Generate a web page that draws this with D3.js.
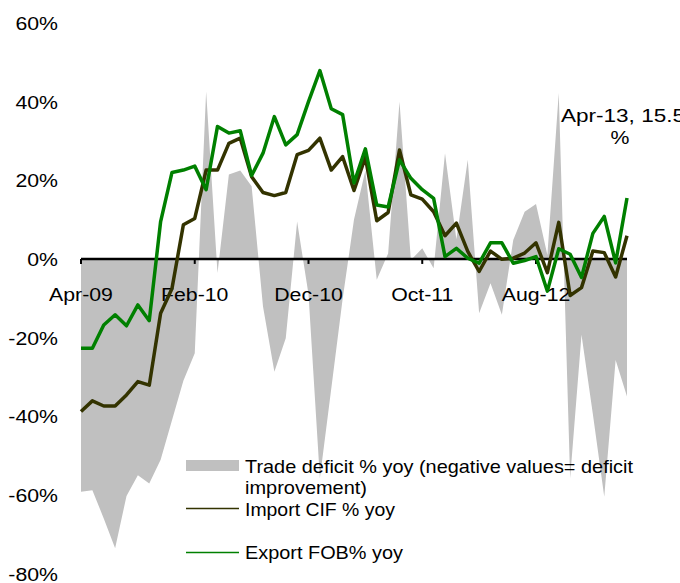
<!DOCTYPE html>
<html>
<head>
<meta charset="utf-8">
<script src="https://cdn.jsdelivr.net/npm/d3@7/dist/d3.min.js"></script>
<style>
  html, body { margin: 0; padding: 0; background: #fff; }
  svg { display: block; }
  text { font-family: "Liberation Sans", Arial, sans-serif; fill: #000; }
</style>
</head>
<body>
<svg id="chart" width="680" height="583"></svg>
<script>
const months = ["Apr-09","May-09","Jun-09","Jul-09","Aug-09","Sep-09","Oct-09","Nov-09","Dec-09","Jan-10",
  "Feb-10","Mar-10","Apr-10","May-10","Jun-10","Jul-10","Aug-10","Sep-10","Oct-10","Nov-10",
  "Dec-10","Jan-11","Feb-11","Mar-11","Apr-11","May-11","Jun-11","Jul-11","Aug-11","Sep-11",
  "Oct-11","Nov-11","Dec-11","Jan-12","Feb-12","Mar-12","Apr-12","May-12","Jun-12","Jul-12",
  "Aug-12","Sep-12","Oct-12","Nov-12","Dec-12","Jan-13","Feb-13","Mar-13","Apr-13"];

const tradeDeficit = [-59.2,-58.8,-66.0,-73.6,-60.3,-55.0,-57.1,-51.1,-41.0,-31.0,
  -24.0,42.6,-3.6,21.5,22.5,18.5,-12.1,-28.7,-20.2,9.5,
  -9.0,-55.8,-33.0,-10.2,10.0,22.5,-5.3,1.4,40.0,-0.3,
  2.7,-2.4,26.9,5.0,25.2,-13.8,-6.2,-14.2,4.8,12.0,
  14.0,1.0,42.2,-55.8,-19.3,-39.5,-60.5,-25.7,-35.0];

const importCIF = [-38.8,-36.1,-37.4,-37.4,-34.6,-31.2,-32.1,-13.8,-7.5,8.7,
  10.3,22.6,22.6,29.4,30.7,20.9,16.9,16.1,16.9,26.5,
  27.6,30.7,22.6,26.0,17.4,25.9,9.7,11.8,27.7,16.3,
  15.2,12.0,5.9,9.1,1.9,-3.2,2.0,-0.1,0.2,1.5,
  4.1,-3.5,9.3,-9.3,-7.3,2.0,1.6,-4.6,5.9];

const exportFOB = [-22.7,-22.7,-16.8,-14.2,-17.0,-11.7,-15.7,9.5,22.0,22.6,
  23.6,17.6,33.7,32.0,32.6,21.2,26.9,36.2,29.0,31.6,
  40.0,47.9,38.2,36.7,19.3,28.0,13.7,13.2,25.2,20.5,
  17.6,15.4,0.6,2.7,0.2,-1.1,4.1,4.1,-1.1,-0.4,
  0.6,-8.2,2.6,1.2,-4.7,6.5,10.8,-1.0,15.5];

const yTicks = [60,40,20,0,-20,-40,-60,-80];
const xTickLabels = ["Apr-09","Feb-10","Dec-10","Oct-11","Aug-12"];
const legendLabels = [["Trade deficit % yoy (negative values= deficit","improvement)"],["Import CIF % yoy"],["Export FOB% yoy"]];
const annotation = ["Apr-13, 15.5","%"];

const colors = { deficit: "#c0c0c0", imp: "#333300", exp: "#008000" };
const SX = 1.12;

const svg = d3.select("#chart");
const x = d3.scalePoint().domain(months).range([81, 627]);
const y = d3.scaleLinear().domain([-80, 60]).range([573.5, 23]);

function sText(g, tx, ty, str, anchor) {
  return g.append("text")
    .attr("transform", `translate(${tx},${ty}) scale(${SX},1)`)
    .attr("text-anchor", anchor || "start")
    .style("font-size", "19px")
    .text(str);
}
function wText(g, tx, ty, str, width, anchor) {
  return g.append("text")
    .attr("x", tx).attr("y", ty)
    .attr("text-anchor", anchor || "start")
    .attr("textLength", width)
    .attr("lengthAdjust", "spacingAndGlyphs")
    .style("font-size", "19px")
    .text(str);
}

// area
const area = d3.area()
  .x((d, i) => x(months[i]))
  .y0(y(0))
  .y1(d => y(d));
svg.append("path").datum(tradeDeficit)
  .attr("d", area)
  .attr("fill", colors.deficit);

// y labels
yTicks.forEach(v => {
  sText(svg, 58, y(v) + 7, v + "%", "end");
});

// x axis line + ticks
svg.append("line")
  .attr("x1", x(months[0])).attr("x2", x(months[months.length - 1]))
  .attr("y1", y(0)).attr("y2", y(0))
  .attr("stroke", "#000").attr("stroke-width", 2.5);
xTickLabels.forEach(m => {
  svg.append("line")
    .attr("x1", x(m)).attr("x2", x(m))
    .attr("y1", y(0)).attr("y2", y(0) + 5)
    .attr("stroke", "#000").attr("stroke-width", 2);
  sText(svg, x(m), y(0) + 42, m, "middle");
});

// lines
const line = d3.line().x((d, i) => x(months[i])).y(d => y(d));
svg.append("path").datum(importCIF)
  .attr("d", line).attr("fill", "none")
  .attr("stroke", colors.imp).attr("stroke-width", 3.5)
  .attr("stroke-linejoin", "round");
svg.append("path").datum(exportFOB)
  .attr("d", line).attr("fill", "none")
  .attr("stroke", colors.exp).attr("stroke-width", 3.5)
  .attr("stroke-linejoin", "round");

// annotation
const last = months[months.length - 1];
const ay = y(exportFOB[exportFOB.length - 1]);
wText(svg, 561, ay - 76, annotation[0], 124, "start");
sText(svg, 620, ay - 54, annotation[1], "middle");

// legend
const lg = svg.append("g");
lg.append("rect").attr("x", 186).attr("y", 460).attr("width", 53).attr("height", 11)
  .attr("fill", colors.deficit);
wText(lg, 245, 473, legendLabels[0][0], 388);
wText(lg, 245, 494, legendLabels[0][1], 122);
lg.append("line").attr("x1", 186).attr("x2", 239).attr("y1", 508.5).attr("y2", 508.5)
  .attr("stroke", colors.imp).attr("stroke-width", 1.5);
wText(lg, 245, 516, legendLabels[1][0], 150);
lg.append("line").attr("x1", 186).attr("x2", 239).attr("y1", 552.5).attr("y2", 552.5)
  .attr("stroke", colors.exp).attr("stroke-width", 1.5);
wText(lg, 245, 559, legendLabels[2][0], 158);
</script>
</body>
</html>
